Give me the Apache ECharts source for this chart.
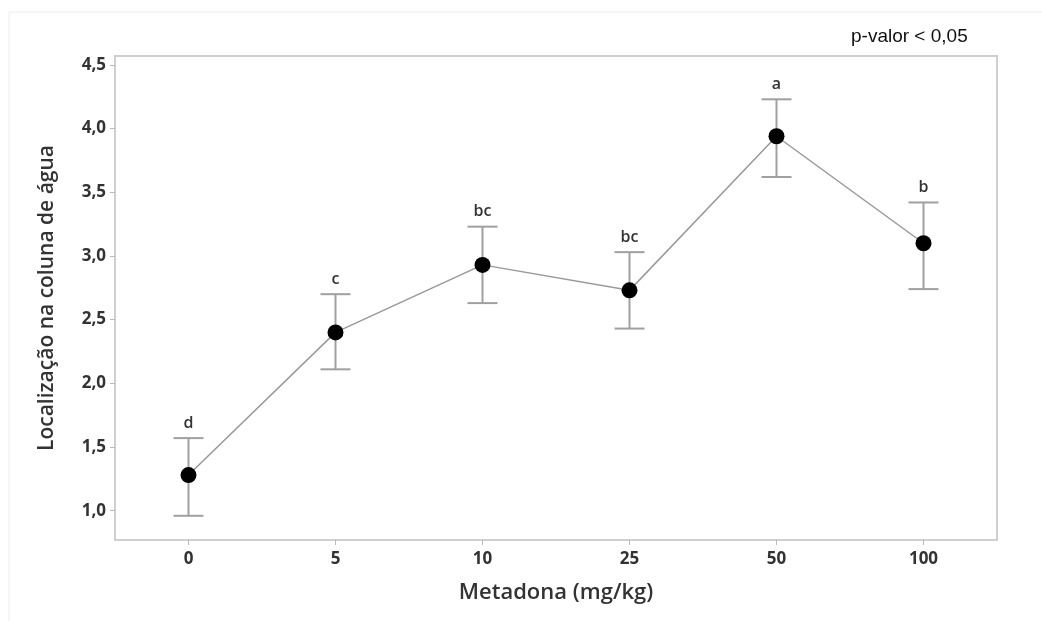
<!DOCTYPE html>
<html>
<head>
<meta charset="utf-8">
<script src="https://cdn.jsdelivr.net/npm/echarts@6/dist/echarts.min.js"></script>
<style>
  html, body { margin: 0; padding: 0; background: #fff; }
  #chart { width: 1042px; height: 621px; }
</style>
</head>
<body>
<div id="chart"></div>
<script>
const doses = ['0', '5', '10', '25', '50', '100']
const means = [1.28, 2.40, 2.93, 2.73, 3.94, 3.10]
const upper = [1.57, 2.70, 3.23, 3.03, 4.23, 3.42]
const lower = [0.96, 2.11, 2.63, 2.43, 3.62, 2.74]
const letters = ['d', 'c', 'bc', 'bc', 'a', 'b']
const yTicks = [1.0, 1.5, 2.0, 2.5, 3.0, 3.5, 4.0, 4.5]

const chart = echarts.init(document.getElementById('chart'))

const fmt = v => v.toFixed(1).replace('.', ',')

const errorData = doses.map((d, i) => [i, lower[i], upper[i], letters[i]])

const renderError = (params, api) => {
  const x = api.value(0)
  const lo = api.coord([x, api.value(1)])
  const hi = api.coord([x, api.value(2)])
  const half = 15
  const style = { stroke: '#a0a0a0', lineWidth: 2 }
  return {
    type: 'group',
    children: [
      { type: 'line', shape: { x1: hi[0], y1: hi[1], x2: lo[0], y2: lo[1] }, style },
      { type: 'line', shape: { x1: hi[0] - half, y1: hi[1], x2: hi[0] + half, y2: hi[1] }, style },
      { type: 'line', shape: { x1: lo[0] - half, y1: lo[1], x2: lo[0] + half, y2: lo[1] }, style },
      {
        type: 'text',
        style: {
          x: hi[0], y: hi[1] - 7,
          text: letters[params.dataIndex],
          align: 'center', verticalAlign: 'bottom',
          font: '600 16px "Open Sans", sans-serif',
          fill: '#333'
        }
      }
    ]
  }
}

chart.setOption({
  animation: false,
  grid: {
    left: 115, right: 45, top: 56, bottom: 81,
    show: true, borderColor: '#d0d0d0', borderWidth: 2
  },
  graphic: [
    {
      type: 'polyline',
      shape: { points: [[9, 621], [9, 12], [1042, 12]] },
      style: { stroke: '#ececec', lineWidth: 1, fill: null }
    },
    {
      type: 'text',
      left: 851, top: 27,
      style: {
        text: 'p-valor < 0,05',
        font: '19px "Liberation Sans", Arial, sans-serif',
        fill: '#111'
      }
    }
  ],
  xAxis: {
    type: 'category',
    data: doses,
    boundaryGap: true,
    name: 'Metadona (mg/kg)',
    nameLocation: 'middle',
    nameGap: 42,
    nameTextStyle: { fontFamily: 'Open Sans', fontSize: 22, fontWeight: 600, color: '#333' },
    axisLine: { show: false },
    axisTick: { show: true, alignWithLabel: true, length: 5, lineStyle: { color: '#bbb' } },
    axisLabel: { fontFamily: 'Open Sans', fontSize: 17, fontWeight: 'bold', color: '#333', margin: 11 },
    splitLine: { show: false }
  },
  yAxis: {
    type: 'value',
    min: 0.77,
    max: 4.57,
    name: 'Localização na coluna de água',
    nameLocation: 'middle',
    nameGap: 57,
    nameTextStyle: { fontFamily: 'Open Sans', fontSize: 21, fontWeight: 600, color: '#333' },
    axisLine: { show: false },
    axisTick: { show: true, length: 5, lineStyle: { color: '#bbb' }, customValues: yTicks },
    axisLabel: { fontFamily: 'Open Sans', fontSize: 17, fontWeight: 'bold', color: '#333', margin: 9,
      customValues: yTicks, formatter: fmt },
    splitLine: { show: false }
  },
  series: [
    {
      type: 'custom',
      renderItem: renderError,
      data: errorData,
      encode: { x: 0, y: [1, 2] },
      z: 1
    },
    {
      type: 'line',
      data: means,
      symbol: 'circle',
      symbolSize: 16,
      itemStyle: { color: '#000' },
      lineStyle: { color: '#999', width: 1.5 },
      z: 2
    }
  ]
})

window.addEventListener('resize', () => chart.resize())
</script>
</body>
</html>
